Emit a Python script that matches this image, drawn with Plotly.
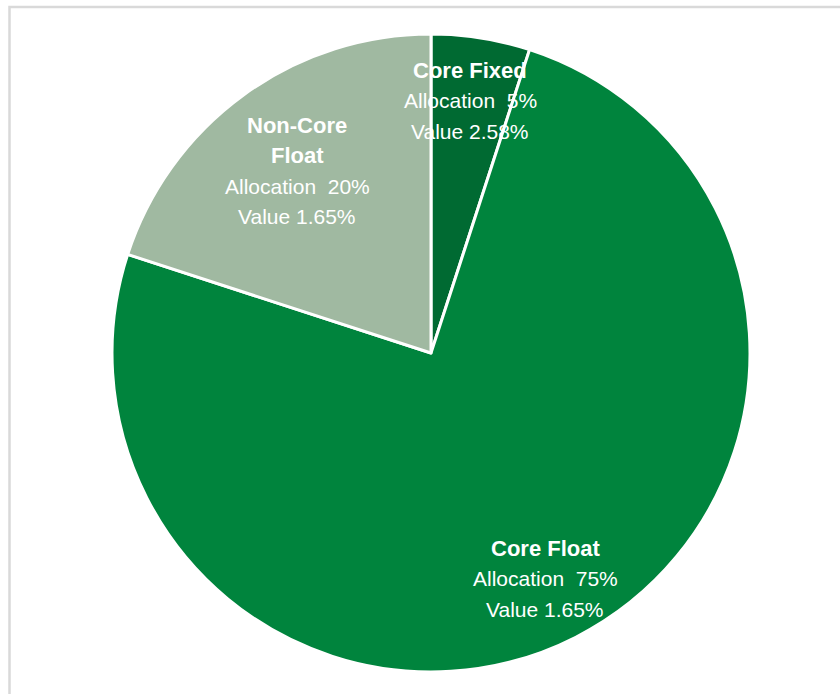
import plotly.graph_objects as go

# Portfolio split
categories = ["Core Fixed", "Core Float", "Non-Core Float"]
allocation = [5, 75, 20]
value = [2.58, 1.65, 1.65]
colors = ["#006A32", "#00843D", "#A0B9A1"]

# Title lines (bold) for each slice label
title_lines = [["Core Fixed"], ["Core Float"], ["Non-Core", "Float"]]
# Label block anchors in pixels (centre x, first-line y) and line pitch
label_anchor = [(470, 70), (545, 548), (297, 125)]
line_pitch = 30.5

W, H = 840, 694
cx, cy, r = 431, 353, 319

fig = go.Figure(
    go.Pie(
        labels=categories,
        values=allocation,
        marker=dict(colors=colors, line=dict(color="white", width=3)),
        sort=False,
        direction="clockwise",
        rotation=0,
        textinfo="none",
        hoverinfo="none",
        showlegend=False,
        domain=dict(
            x=[(cx - r) / W, (cx + r) / W],
            y=[(H - cy - r) / H, (H - cy + r) / H],
        ),
    )
)

annotations = []
for i, cat in enumerate(categories):
    x0, y0 = label_anchor[i]
    lines = [(t, True) for t in title_lines[i]]
    lines += [(f"Allocation  {allocation[i]}%", False), (f"Value {value[i]:.2f}%", False)]
    for k, (txt, bold) in enumerate(lines):
        ypx = y0 + k * line_pitch
        annotations.append(
            dict(
                x=x0 / W,
                y=(H - ypx) / H,
                xref="paper",
                yref="paper",
                xanchor="center",
                yanchor="middle",
                text=f"<b>{txt}</b>" if bold else txt,
                showarrow=False,
                font=dict(
                    family="Liberation Sans, Arial, sans-serif",
                    size=22 if bold else 21,
                    color="white",
                ),
            )
        )

fig.update_layout(
    width=W,
    height=H,
    margin=dict(l=0, r=0, t=0, b=0),
    paper_bgcolor="white",
    plot_bgcolor="white",
    annotations=annotations,
    shapes=[
        dict(
            type="rect",
            xref="paper",
            yref="paper",
            x0=9.5 / W,
            x1=1.05,
            y0=-0.05,
            y1=(H - 7) / H,
            line=dict(color="#D9D9D9", width=2.5),
            fillcolor="rgba(0,0,0,0)",
            layer="below",
        )
    ],
)

fig.write_html("out.html")
